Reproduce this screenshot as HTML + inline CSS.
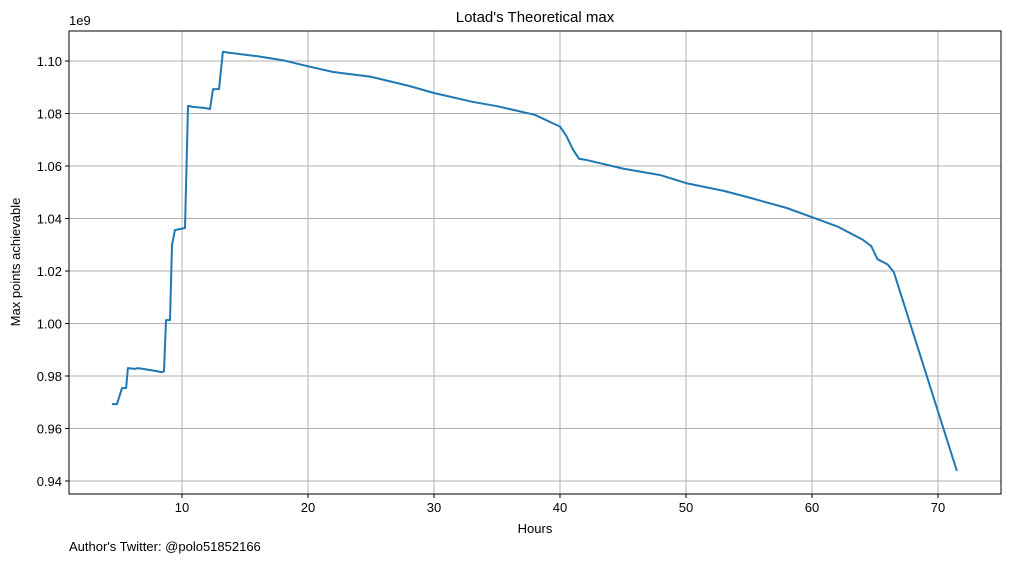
<!DOCTYPE html>
<html><head><meta charset="utf-8"><style>
body{margin:0;background:#fff;}
svg{display:block;font-family:"Liberation Sans","DejaVu Sans",sans-serif;}
</style></head><body>
<svg id="chart" width="1010" height="562"></svg>
<script>
const hours=[4.44,4.84,5.24,5.56,5.71,6.27,6.51,7.46,8.41,8.57,8.73,9.05,9.21,9.44,9.84,10.24,10.48,10.87,11.83,12.22,12.46,12.94,13.25,13.65,14,16,18,20,22,25,28,30,33,35,38,40,40.5,41,41.5,42,45,48,50,53,55,58,60,62,64,64.7,65.2,66,66.5,71.5];
const values=[0.9693,0.9693,0.9754,0.9754,0.983,0.9827,0.983,0.9823,0.9815,0.9818,1.0013,1.0013,1.0299,1.0356,1.036,1.0364,1.0829,1.0825,1.0821,1.0817,1.0893,1.0893,1.1035,1.1032,1.103,1.1018,1.1003,1.098,1.0958,1.094,1.0905,1.0878,1.0845,1.0828,1.0795,1.075,1.0715,1.0665,1.0628,1.0624,1.059,1.0565,1.0535,1.0505,1.048,1.044,1.0405,1.037,1.032,1.0295,1.0245,1.0225,1.0195,0.9438];
const xTicks=[10,20,30,40,50,60,70];
const yTicks=[0.94,0.96,0.98,1.00,1.02,1.04,1.06,1.08,1.10];
const L=69,R=1001,T=31,B=494;
const xs=h=>56+h*12.6;
const ys=v=>61+(1.10-v)/0.02*52.5;
const svg=document.getElementById('chart');
const NS='http://www.w3.org/2000/svg';
function mk(tag,attrs,txt){const e=document.createElementNS(NS,tag);for(const k in attrs)e.setAttribute(k,attrs[k]);if(txt!==undefined)e.textContent=txt;svg.appendChild(e);return e;}
xTicks.forEach(t=>{const x=xs(t);
 const g=mk('line',{x1:x,x2:x,y1:T,y2:B,stroke:'#b0b0b0','stroke-width':1});
 
 
 mk('line',{x1:x,x2:x,y1:B,y2:B+4,stroke:'#000'});
 const l=mk('text',{x:x,y:B+18,'text-anchor':'middle','font-size':13},String(t));
 
 
});
yTicks.forEach(t=>{const y=ys(t);
 const g=mk('line',{x1:L,x2:R,y1:y,y2:y,stroke:'#b0b0b0','stroke-width':1});
 
 
 mk('line',{x1:L-4,x2:L,y1:y,y2:y,stroke:'#000'});
 const l=mk('text',{x:L-7,y:y+5,'text-anchor':'end','font-size':13},t.toFixed(2));
 
 
});
const d=hours.map((h,i)=>(i?'L':'M')+xs(h).toFixed(1)+','+ys(values[i]).toFixed(1)).join(' ');
const p=mk('path',{d:d,fill:'none',stroke:'#1f77b4','stroke-width':2,'stroke-linejoin':'round'});


const f=mk('rect',{x:L,y:T,width:R-L,height:B-T,fill:'none',stroke:'#000','stroke-width':1});


const t1=mk('text',{x:535,y:22,'text-anchor':'middle','font-size':15},"Lotad's Theoretical max");


const t2=mk('text',{x:69,y:25,'font-size':13},"1e9");


const t3=mk('text',{x:535,y:533,'text-anchor':'middle','font-size':13},"Hours");


const t4=mk('text',{x:20,y:262,'text-anchor':'middle','font-size':13,transform:'rotate(-90 20 262)'},"Max points achievable");


const t5=mk('text',{x:69,y:551,'font-size':13},"Author's Twitter: @polo51852166");


</script>
</body></html>
